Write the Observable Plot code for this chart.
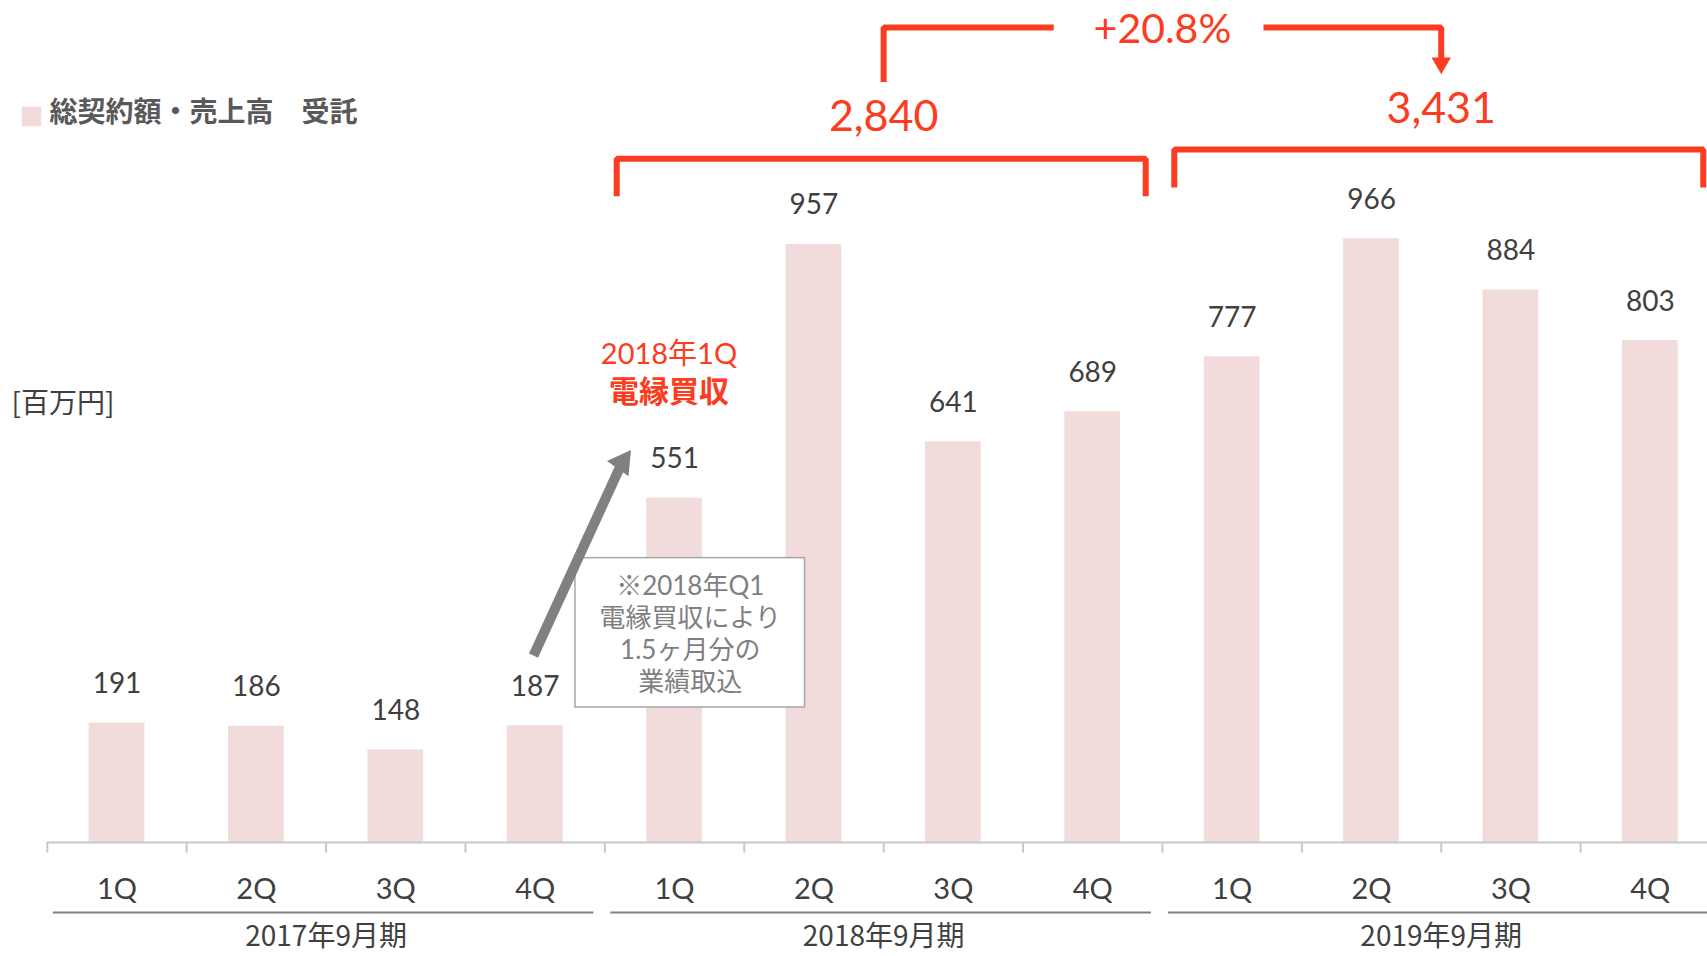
<!DOCTYPE html>
<html><head><meta charset="utf-8">
<script src="https://cdn.jsdelivr.net/npm/d3@7"></script>
<script src="https://cdn.jsdelivr.net/npm/@observablehq/plot@0.6"></script>
<style>html,body{margin:0;padding:0;background:#fff;overflow:hidden;} #chart svg{display:block}</style>
</head><body><div id="chart"></div>
<script>
// ---- data ----
const fiscalYears = ["2017年9月期", "2018年9月期", "2019年9月期"];
const quarters = ["1Q", "2Q", "3Q", "4Q"];
const sales2017 = [191, 186, 148, 187];
const sales2018 = [551, 957, 641, 689];
const sales2019 = [777, 966, 884, 803];
const annualTotals = [null, 2840, 3431];
const growthLabel = "+20.8%";
const legendLabel = "総契約額・売上高　受託";
const unitLabel = "[百万円]";
const acquisitionTitle = "2018年1Q";
const acquisitionName = "電縁買収";
const noteLines = ["※2018年Q1", "電縁買収により", "1.5ヶ月分の", "業績取込"];

// ---- derived tables ----
const seriesByYear = [sales2017, sales2018, sales2019];
const rows = fiscalYears.flatMap((fy, g) => quarters.map((q, k) => ({fy, q, value: seriesByYear[g][k], i: g * 4 + k})));
const groups = fiscalYears.map((fy, g) => ({fy, start: g * 4, end: g * 4 + 4, total: annualTotals[g]}));

// ---- layout / style ----
const W = 1707, H = 956;
const xRange = [46.8, 1719.5];
const yDomain = [0, 1000], yRange = [842, 217];
const step = (xRange[1] - xRange[0]) / rows.length;
const pxPerUnit = (yRange[0] - yRange[1]) / (yDomain[1] - yDomain[0]);
const RED = "#fb3c21", TEXT = "#404040", BAR = "#f1dbdb", GRAY = "#808080";
const FONT = "Lato, 'Noto Sans CJK JP', sans-serif";
const CJK = "'Noto Sans CJK JP', sans-serif";

// annotation geometry (in scale units)
const bracketLayout = [{top: 1094, bottom: 1034, label: 1160}, {top: 1109, bottom: 1048, label: 1173}];
const bracketed = groups.filter(d => d.total);
const bracketPts = bracketed.flatMap((d, j) => {
  const L = bracketLayout[j], a = d.start + 0.085, b = d.end - 0.12;
  return [{x: a, y: L.bottom, z: j}, {x: a, y: L.top, z: j}, {x: b, y: L.top, z: j}, {x: b, y: L.bottom, z: j}];
});
const c0 = (bracketed[0].start + bracketed[0].end) / 2;
const c1 = (bracketed[1].start + bracketed[1].end) / 2;
const mid = (c0 + c1) / 2;
const growthY = 1304;
const growthLeft = [{x: c0, y: 1217}, {x: c0, y: growthY}, {x: mid - 0.78, y: growthY}];
const growthRight = [{x: mid + 0.725, y: growthY}, {x: c1, y: growthY}, {x: c1, y: 1247}];

// gray acquisition arrow
const arrowTail = {x: 3.488, y: 299};
const arrowTip = {x: 4.169, y: 630};
const adx = (arrowTip.x - arrowTail.x) * step, ady = (arrowTip.y - arrowTail.y) * pxPerUnit;
const alen = Math.hypot(adx, ady);
const headR = 9.8, headBack = 15;
const arrowHead = {x: arrowTip.x - headBack * adx / alen / step, y: arrowTip.y - headBack * ady / alen / pxPerUnit};
const arrowAngle = Math.atan2(adx, ady) * 180 / Math.PI;

const noteBox = {x1: 3.789, x2: 5.436, y1: 216, y2: 455};

const plot = Plot.plot({
  width: W, height: H,
  marginTop: 0, marginRight: 0, marginBottom: 0, marginLeft: 0,
  style: {fontFamily: FONT, background: "#fff"},
  x: {type: "linear", domain: [0, rows.length], range: xRange, axis: null},
  y: {type: "linear", domain: yDomain, range: yRange, axis: null},
  marks: [
    // bars
    Plot.rect(rows, {x1: "i", x2: d => d.i + 1, y1: 0, y2: "value", fill: BAR, insetLeft: step * 0.3, insetRight: step * 0.3}),
    // baseline + ticks at band boundaries
    Plot.ruleY([0], {x1: 0, x2: rows.length, stroke: "#c8c8c8", strokeWidth: 2}),
    Plot.ruleX(rows, {x: "i", y1: 0, y2: -17, stroke: "#c8c8c8", strokeWidth: 2}),
    // value labels
    Plot.text(rows, {x: d => d.i + 0.5, y: "value", text: d => String(d.value), dy: -39, fontSize: 28, fill: TEXT}),
    // quarter labels
    Plot.text(rows, {x: d => d.i + 0.5, y: 0, text: "q", dy: 47, fontSize: 29, fill: TEXT}),
    // fiscal-year group lines + labels
    Plot.ruleY(groups, {y: 0, x1: "start", x2: "end", dy: 70, insetLeft: 6, insetRight: 11, stroke: GRAY, strokeWidth: 2.2}),
    Plot.text(groups, {x: d => (d.start + d.end) / 2, y: 0, text: "fy", dy: 95, fontSize: 28, fill: TEXT, fontFamily: CJK}),
    // brackets & totals
    Plot.line(bracketPts, {x: "x", y: "y", z: "z", stroke: RED, strokeWidth: 6, strokeLinejoin: "miter", strokeLinecap: "butt"}),
    Plot.text(bracketed, {x: d => (d.start + d.end) / 2, y: (d, j) => bracketLayout[j].label, text: d => d3.format(",")(d.total), fontSize: 43, fill: RED}),
    // growth connector
    Plot.line(growthLeft, {x: "x", y: "y", stroke: RED, strokeWidth: 6, strokeLinejoin: "miter", strokeLinecap: "butt"}),
    Plot.line(growthRight, {x: "x", y: "y", stroke: RED, strokeWidth: 6, strokeLinejoin: "miter", strokeLinecap: "butt"}),
    Plot.dot([growthRight[2]], {x: "x", y: "y", symbol: "triangle", r: 7.2, rotate: 180, fill: RED, stroke: null}),
    Plot.text([growthLabel], {x: mid, y: 1301, text: d => d, fontSize: 41, fill: RED}),
    // acquisition label
    Plot.text([acquisitionTitle], {x: 4.46, y: 781, text: d => d, fontSize: 29, fill: RED}),
    Plot.text([acquisitionName], {x: 4.46, y: 720, text: d => d, fontSize: 30, fontWeight: "bold", fill: RED, fontFamily: CJK}),
    // note box
    Plot.rect([noteBox], {x1: "x1", x2: "x2", y1: "y1", y2: "y2", fill: "#fff", stroke: "#a6a6a6", strokeWidth: 1.5}),
    Plot.text([noteLines.join("\n")], {x: (noteBox.x1 + noteBox.x2) / 2, y: (noteBox.y1 + noteBox.y2) / 2, text: d => d, fontSize: 26, lineHeight: 1.22, fill: "#7f7f7f"}),
    // gray arrow
    Plot.link([arrowTail], {x1: "x", y1: "y", x2: () => arrowHead.x, y2: () => arrowHead.y, stroke: GRAY, strokeWidth: 10, strokeLinecap: "butt"}),
    Plot.dot([arrowHead], {x: "x", y: "y", symbol: "triangle", r: headR, rotate: 180 - arrowAngle, fill: GRAY, stroke: null}),
    // legend + unit
    Plot.dot([legendLabel], {frameAnchor: "top-left", dx: 31, dy: 116, symbol: "square", r: 11, fill: BAR, stroke: null}),
    Plot.text([legendLabel], {frameAnchor: "top-left", text: d => d, dx: 49, dy: 113, textAnchor: "start", lineAnchor: "middle", fontSize: 28, fontWeight: "bold", fill: "#595959", fontFamily: CJK}),
    Plot.text([unitLabel], {frameAnchor: "top-left", text: d => d, dx: 11, dy: 404, textAnchor: "start", lineAnchor: "middle", fontSize: 28, fill: TEXT, fontFamily: CJK})
  ]
});
document.getElementById("chart").appendChild(plot);
</script>
</body></html>
